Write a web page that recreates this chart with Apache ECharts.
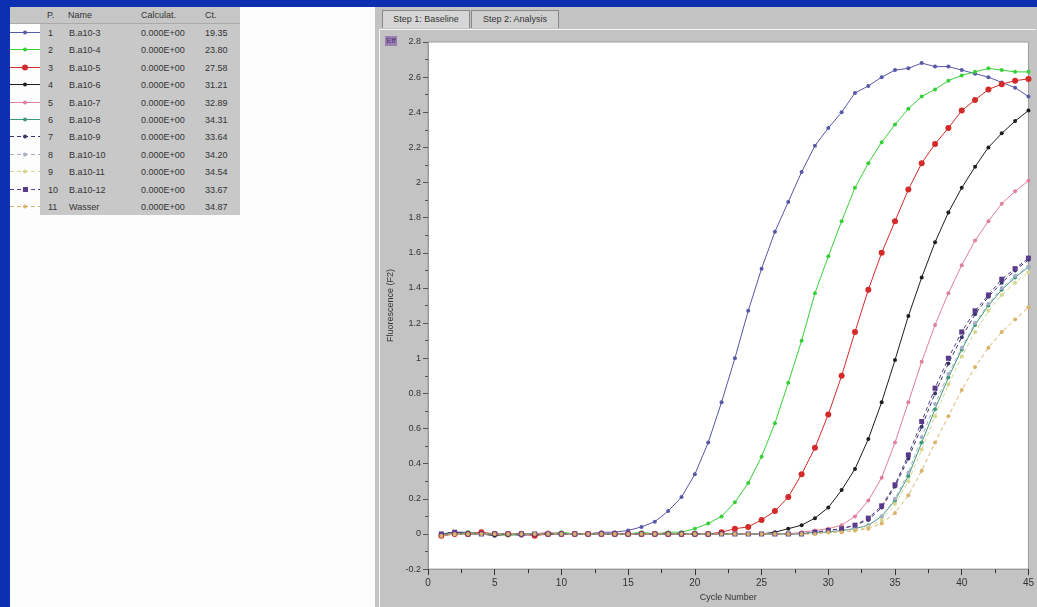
<!DOCTYPE html>
<html>
<head>
<meta charset="utf-8">
<script src="https://cdn.jsdelivr.net/npm/echarts@6/dist/echarts.min.js"></script>
<style>
  body { margin: 0; width: 1037px; height: 607px; overflow: hidden; background: #0d2fb2; position: relative;
         font-family: "Liberation Sans", Arial, sans-serif; }
  #leftArea { position: absolute; left: 10px; top: 7px; width: 365px; height: 600px; background: #fdfdfd; }
  #tbl { position: absolute; left: 10px; top: 7px; width: 230px; height: 208px; }
  .hdr { position: absolute; left: 0; top: 0; width: 230px; height: 16px; background: #c6c6c6; border-bottom: 1px solid #aaa; }
  .hdr span, .row span { position: absolute; font-size: 9px; color: #333; white-space: nowrap; }
  .row { position: absolute; left: 0; width: 230px; height: 17.4px; }
  .cellbg { position: absolute; left: 30px; top: 0; width: 200px; height: 100%; background: #c8c8c8; }
  #panel { position: absolute; left: 375px; top: 7px; width: 662px; height: 600px; background: #c3c3c3; }
  .tab { position: absolute; top: 3px; height: 17px; font-size: 9px; color: #333; line-height: 17px; text-align: center;
         border: 1px solid #888; border-bottom: none; background: #cfcfcf; }
  #frame { position: absolute; left: 4px; top: 22px; width: 656px; height: 578px; border-top: 1px solid #f4f4f4; border-left: 1px solid #f4f4f4; }
  #icon { position: absolute; left: 10px; top: 29px; width: 12px; height: 10px; background: #9a7fb0; font-size: 8px; color: #503070; line-height: 10px; text-align: center; }
  #chart { position: absolute; left: 375px; top: 7px; width: 662px; height: 600px; }
</style>
</head>
<body>
<div id="leftArea"></div>
<div id="tbl"></div>
<div id="panel">
  <div class="tab" style="left:7px;width:86px;background:#d6d6d6">Step 1: Baseline</div>
  <div class="tab" style="left:96px;width:86px">Step 2: Analysis</div>
  <div id="frame"></div>
  <div id="icon">Eff</div>
</div>
<div id="chart"></div>
<script>
  // 数据
  var cycles = [1,2,3,4,5,6,7,8,9,10,11,12,13,14,15,16,17,18,19,20,21,22,23,24,25,26,27,28,29,30,31,32,33,34,35,36,37,38,39,40,41,42,43,44,45]

  var names = ['B.a10-3','B.a10-4','B.a10-5','B.a10-6','B.a10-7','B.a10-8','B.a10-9','B.a10-10','B.a10-11','B.a10-12','Wasser']
  var calcValues = ['0.000E+00','0.000E+00','0.000E+00','0.000E+00','0.000E+00','0.000E+00','0.000E+00','0.000E+00','0.000E+00','0.000E+00','0.000E+00']
  var ctValues = ['19.35','23.80','27.58','31.21','32.89','34.31','33.64','34.20','34.54','33.67','34.87']
  var colors = ['#5858a8','#38d038','#d42a2a','#1e1e1e','#e0809a','#3a9a78','#36366a','#a8aec8','#d6d68c','#5a3a8a','#d8b46c']

  var s1 = [-0.01,0.01,0.01,0.00,0.00,0.00,-0.01,0.00,0.00,0.00,0.00,0.00,0.01,0.01,0.02,0.04,0.07,0.13,0.21,0.34,0.52,0.75,1.00,1.27,1.51,1.72,1.89,2.06,2.21,2.31,2.40,2.51,2.55,2.60,2.64,2.65,2.68,2.66,2.66,2.64,2.62,2.60,2.57,2.54,2.49]
  var s2 = [-0.01,0.00,0.01,0.00,0.00,-0.01,0.00,0.00,0.00,0.01,0.00,0.00,0.00,0.00,0.00,0.01,0.00,0.01,0.01,0.03,0.06,0.10,0.18,0.29,0.44,0.63,0.86,1.10,1.37,1.58,1.78,1.97,2.11,2.23,2.33,2.42,2.49,2.53,2.58,2.61,2.63,2.65,2.64,2.63,2.63]
  var s3 = [-0.01,0.00,0.00,0.01,0.00,0.00,0.00,-0.01,0.00,0.00,0.00,0.00,0.00,0.00,0.00,0.00,0.00,0.00,0.00,0.00,0.00,0.01,0.03,0.04,0.08,0.13,0.21,0.34,0.49,0.68,0.90,1.15,1.39,1.60,1.78,1.96,2.11,2.22,2.31,2.41,2.47,2.53,2.56,2.58,2.59]
  var s4 = [0.00,0.01,0.00,0.00,-0.01,0.00,0.00,0.00,0.00,0.00,0.00,0.00,0.00,0.00,0.00,0.00,0.00,0.00,0.00,0.00,0.00,0.00,0.00,0.00,0.00,0.01,0.03,0.05,0.09,0.15,0.25,0.37,0.54,0.75,0.99,1.24,1.46,1.66,1.83,1.97,2.09,2.20,2.28,2.35,2.41]
  var s5 = [-0.01,0.00,0.00,0.00,0.00,0.00,0.00,0.00,0.01,0.00,0.00,0.00,0.00,0.00,0.00,0.00,0.00,0.00,0.00,0.00,0.00,0.00,0.00,0.00,0.00,0.00,0.00,0.01,0.02,0.03,0.05,0.10,0.19,0.32,0.52,0.75,0.98,1.19,1.37,1.53,1.67,1.78,1.88,1.95,2.01]
  var s6 = [0.00,0.00,0.00,0.00,0.00,0.00,0.00,0.00,0.00,0.00,0.00,0.00,0.00,0.00,0.00,0.00,0.00,0.00,0.00,0.00,0.00,0.00,0.00,0.00,0.00,0.00,0.00,0.00,0.01,0.01,0.02,0.03,0.05,0.10,0.19,0.33,0.52,0.71,0.89,1.05,1.19,1.30,1.39,1.46,1.52]
  var s7 = [0.00,0.01,0.00,0.00,0.00,0.00,0.00,0.00,0.00,0.00,0.00,0.00,0.00,0.00,0.00,0.00,0.00,0.00,0.00,0.00,0.00,0.00,0.00,0.00,0.00,0.00,0.00,0.00,0.01,0.02,0.03,0.05,0.08,0.15,0.27,0.43,0.61,0.80,0.97,1.12,1.25,1.35,1.43,1.50,1.56]
  var s8 = [0.00,0.00,0.00,0.00,0.00,0.00,0.00,0.00,0.00,0.00,0.00,0.00,0.00,0.00,0.00,0.00,0.00,0.00,0.00,0.00,0.00,0.00,0.00,0.00,0.00,0.00,0.00,0.00,0.01,0.01,0.02,0.03,0.05,0.10,0.20,0.35,0.55,0.74,0.91,1.06,1.20,1.31,1.40,1.47,1.52]
  var s9 = [0.00,0.00,0.00,0.00,0.00,0.00,0.00,0.00,0.00,0.00,0.00,0.00,0.00,0.00,0.00,0.00,0.00,0.00,0.00,0.00,0.00,0.00,0.00,0.00,0.00,0.00,0.00,0.00,0.00,0.01,0.01,0.02,0.04,0.08,0.17,0.30,0.48,0.67,0.85,1.01,1.15,1.27,1.36,1.43,1.49]
  var s10 = [0.00,0.01,0.00,0.00,0.00,0.00,0.00,0.00,0.00,0.00,0.00,0.00,0.00,0.00,0.00,0.00,0.00,0.00,0.00,0.00,0.00,0.00,0.00,0.00,0.00,0.00,0.00,0.00,0.01,0.02,0.03,0.05,0.09,0.16,0.28,0.45,0.64,0.83,1.00,1.15,1.27,1.36,1.45,1.51,1.57]
  var s11 = [-0.01,0.00,0.00,0.00,0.00,0.00,0.00,0.00,0.00,0.00,0.00,0.00,0.00,0.00,0.00,0.00,0.00,0.00,0.00,0.00,0.00,0.00,0.00,0.00,0.00,0.00,0.00,0.00,0.00,0.01,0.01,0.02,0.03,0.06,0.12,0.22,0.36,0.52,0.67,0.82,0.95,1.06,1.15,1.22,1.29]

  var allSeries = [s1, s2, s3, s4, s5, s6, s7, s8, s9, s10, s11]
  var dashed = [false, false, false, false, false, false, true, true, true, true, true]
  var symbols = ['circle','circle','circle','circle','circle','circle','circle','circle','circle','rect','circle']
  var symbolSizes = [4, 4, 6, 4, 4, 4, 4, 4, 4, 5, 4]

  // 左边的表格（带图例线条）
  var tbl = document.getElementById('tbl')
  var html = '<div class="hdr"><span style="left:37px;top:3px">P.</span><span style="left:58px;top:3px">Name</span>' +
    '<span style="left:131px;top:3px">Calculat.</span><span style="left:195px;top:3px">Ct.</span></div>'
  for (var i = 0; i < names.length; i++) {
    var rowTop = 17 + i * 17.4
    var dash = dashed[i] ? ' stroke-dasharray="4,3"' : ''
    var mk = symbols[i] === 'rect'
      ? '<rect x="13" y="3" width="5" height="5" fill="' + colors[i] + '"/>'
      : '<circle cx="15" cy="5.5" r="' + (symbolSizes[i] / 2) + '" fill="' + colors[i] + '"/>'
    html += '<div class="row" style="top:' + rowTop + 'px"><div class="cellbg"></div>' +
      '<svg width="30" height="11" style="position:absolute;left:0;top:3px"><line x1="0" y1="5.5" x2="30" y2="5.5" stroke="' + colors[i] + '" stroke-width="1"' + dash + '/>' + mk + '</svg>' +
      '<span style="left:38px;top:4px">' + (i + 1) + '</span>' +
      '<span style="left:59px;top:4px">' + names[i] + '</span>' +
      '<span style="left:131px;top:4px">' + calcValues[i] + '</span>' +
      '<span style="left:195px;top:4px">' + ctValues[i] + '</span></div>'
  }
  tbl.innerHTML = html

  var chart = echarts.init(document.getElementById('chart'))

  var series = allSeries.map(function (vals, i) {
    return {
      name: names[i],
      type: 'line',
      data: cycles.map(function (c, k) { return [c, vals[k]] }),
      symbol: symbols[i],
      symbolSize: symbolSizes[i],
      showSymbol: true,
      itemStyle: { color: colors[i] },
      lineStyle: { color: colors[i], width: 1, type: dashed[i] ? [4, 3] : 'solid' },
      animation: false
    }
  })

  var option = {
    animation: false,
    grid: {
      left: 53, right: 7, top: 35, bottom: 37,
      show: true, backgroundColor: '#ffffff', borderColor: '#9a9a9a', borderWidth: 1
    },
    xAxis: {
      type: 'value', min: 0, max: 45, interval: 5, position: 'bottom',
      name: 'Cycle Number', nameLocation: 'middle', nameGap: 21,
      nameTextStyle: { fontSize: 9, color: '#333' },
      axisLine: { show: true, onZero: false, lineStyle: { color: '#9a9a9a' } },
      axisTick: { show: true, inside: false, length: 6, lineStyle: { color: '#333', width: 1 } },
      minorTick: { show: true, splitNumber: 2, length: 4, lineStyle: { color: '#333', width: 1 } },
      axisLabel: { fontSize: 10, color: '#333', margin: 9, showMinLabel: true, showMaxLabel: true },
      splitLine: { show: false }
    },
    yAxis: {
      type: 'value', min: -0.2, max: 2.8, interval: 0.2, position: 'left',
      name: 'Fluorescence (F2)', nameLocation: 'middle', nameGap: 27,
      nameTextStyle: { fontSize: 9, color: '#333' },
      axisLine: { show: true, onZero: false, lineStyle: { color: '#9a9a9a' } },
      axisTick: { show: true, length: 5, lineStyle: { color: '#555' } },
      minorTick: { show: true, splitNumber: 2, length: 3, lineStyle: { color: '#555' } },
      axisLabel: { fontSize: 9, color: '#333', margin: 7 },
      splitLine: { show: false }
    },
    series: series
  }

  chart.setOption(option)
</script>
</body>
</html>
